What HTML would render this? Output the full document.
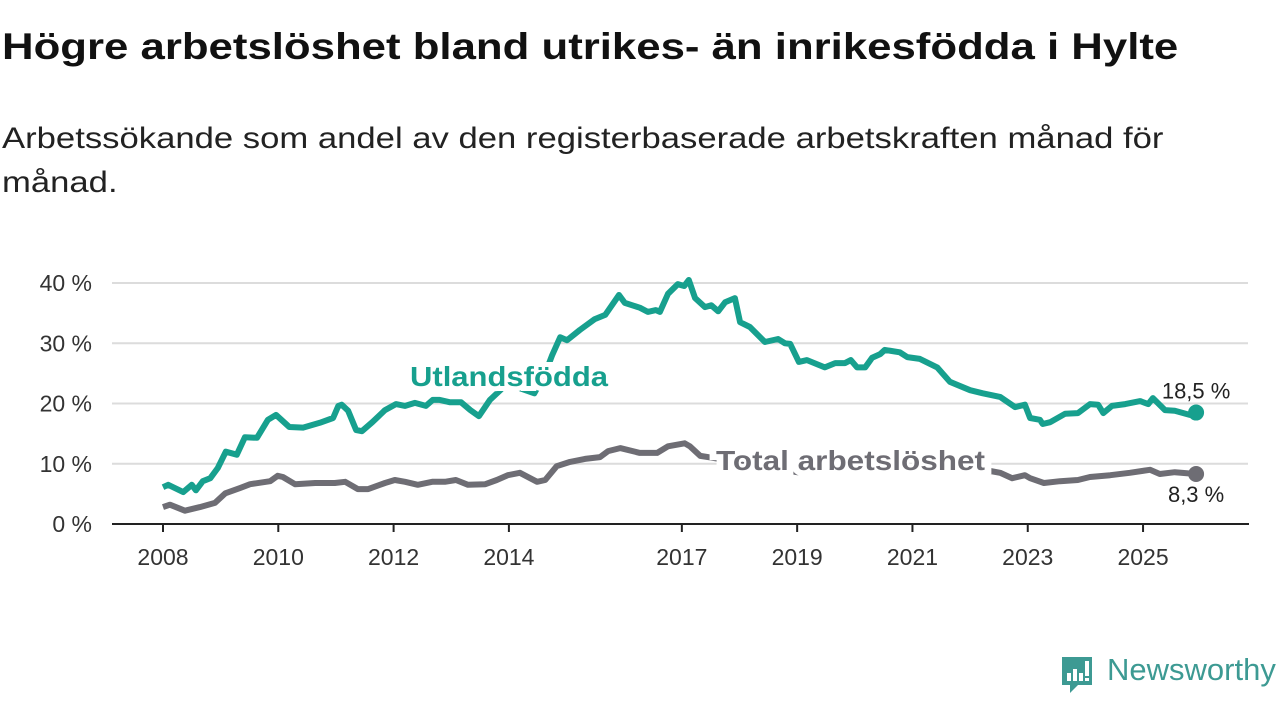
<!DOCTYPE html>
<html><head><meta charset="utf-8">
<style>
html,body{margin:0;padding:0;background:#fff;width:1280px;height:720px;overflow:hidden;font-family:"Liberation Sans",sans-serif;}
#title{position:absolute;left:2px;top:26px;font-size:37px;font-weight:bold;color:#111;white-space:nowrap;transform:scaleX(1.182);transform-origin:0 0;}
#sub{position:absolute;left:2px;top:117px;font-size:30px;color:#222;line-height:44px;width:1200px;white-space:nowrap;transform:scaleX(1.155);transform-origin:0 0;}
svg{position:absolute;left:0;top:0;}
</style></head><body>
<div id="title">Högre arbetslöshet bland utrikes- än inrikesfödda i Hylte</div>
<div id="sub">Arbetssökande som andel av den registerbaserade arbetskraften månad för<br>månad.</div>
<svg id="chart" width="1280" height="720"></svg>
<script>
const yTicks=[0,10,20,30,40];
const xTicks=[2008,2010,2012,2014,2017,2019,2021,2023,2025];
const utlYears=[2008.00,2008.09,2008.35,2008.50,2008.57,2008.69,2008.82,2008.95,2009.09,2009.28,2009.42,2009.63,2009.82,2009.96,2010.19,2010.43,2010.72,2010.95,2011.04,2011.10,2011.21,2011.35,2011.45,2011.63,2011.85,2012.04,2012.20,2012.37,2012.56,2012.68,2012.80,2012.98,2013.17,2013.33,2013.48,2013.67,2013.85,2014.02,2014.20,2014.44,2014.63,2014.75,2014.89,2015.01,2015.23,2015.49,2015.67,2015.91,2016.01,2016.27,2016.41,2016.55,2016.62,2016.76,2016.93,2017.04,2017.12,2017.23,2017.40,2017.51,2017.63,2017.75,2017.92,2018.01,2018.18,2018.44,2018.67,2018.79,2018.88,2019.03,2019.17,2019.48,2019.66,2019.83,2019.93,2020.04,2020.18,2020.30,2020.44,2020.52,2020.78,2020.91,2021.13,2021.43,2021.65,2022.00,2022.22,2022.52,2022.78,2022.95,2023.04,2023.21,2023.26,2023.39,2023.65,2023.87,2024.08,2024.22,2024.31,2024.46,2024.69,2024.95,2025.09,2025.17,2025.38,2025.55,2025.81,2025.92];
const utlValues=[6.1,6.5,5.3,6.5,5.6,7.1,7.6,9.3,12.0,11.5,14.4,14.3,17.3,18.1,16.1,16.0,16.8,17.6,19.6,19.8,18.8,15.6,15.4,16.9,18.9,19.9,19.6,20.1,19.6,20.6,20.6,20.2,20.2,18.9,17.9,20.6,22.2,24.0,22.5,21.7,25.0,28.0,31.0,30.5,32.2,34.0,34.7,38.0,36.7,35.9,35.2,35.5,35.2,38.2,39.8,39.5,40.5,37.5,36.0,36.3,35.3,36.8,37.5,33.5,32.7,30.2,30.7,30.0,29.9,26.9,27.2,26.0,26.7,26.7,27.2,26.0,26.0,27.6,28.2,28.9,28.5,27.7,27.4,26.0,23.6,22.2,21.7,21.1,19.4,19.8,17.6,17.3,16.6,16.9,18.3,18.4,19.9,19.8,18.4,19.6,19.9,20.4,19.9,20.9,18.9,18.8,18.1,18.5];
const totYears=[2008.00,2008.12,2008.38,2008.64,2008.90,2009.08,2009.34,2009.51,2009.86,2009.99,2010.08,2010.29,2010.64,2010.98,2011.16,2011.38,2011.56,2011.85,2012.02,2012.20,2012.42,2012.67,2012.89,2013.08,2013.29,2013.59,2013.79,2013.98,2014.19,2014.49,2014.63,2014.83,2015.06,2015.32,2015.58,2015.72,2015.93,2016.27,2016.57,2016.76,2017.05,2017.14,2017.32,2017.52,2018.0,2019.0,2020.0,2021.0,2022.0,2022.35,2022.52,2022.73,2022.95,2023.04,2023.28,2023.56,2023.87,2024.08,2024.43,2024.77,2025.12,2025.29,2025.55,2025.92];
const totValues=[2.8,3.2,2.2,2.8,3.5,5.1,6.0,6.6,7.1,8.0,7.8,6.6,6.8,6.8,7.0,5.8,5.8,6.8,7.3,7.0,6.5,7.0,7.0,7.3,6.5,6.6,7.3,8.1,8.5,7.0,7.3,9.6,10.3,10.8,11.1,12.1,12.6,11.8,11.8,12.9,13.4,12.9,11.3,11.0,10.2,8.6,9.2,9.0,8.9,8.8,8.5,7.6,8.1,7.6,6.8,7.1,7.3,7.8,8.1,8.5,9.0,8.3,8.6,8.3];
const NS='http://www.w3.org/2000/svg';
const svg=document.getElementById('chart');
const X=y=>163+(y-2008)*57.65;
const Y=v=>524-v*6.025;
function mk(t,a,txt){const e=document.createElementNS(NS,t);for(const k in a)e.setAttribute(k,a[k]);if(txt!==undefined)e.textContent=txt;svg.appendChild(e);return e;}
yTicks.forEach(v=>{
  if(v>0){const g=mk('line',{x1:112,x2:1248,y1:Y(v),y2:Y(v),stroke:'#dcdcdc','stroke-width':2});
  
  }
  const t=mk('text',{x:92,y:Y(v)+8,'text-anchor':'end','font-size':23,fill:'#333','font-family':'Liberation Sans, sans-serif'},v+' %');
  
  
});
const ax=mk('line',{x1:112,x2:1249,y1:524,y2:524,stroke:'#222','stroke-width':2});


xTicks.forEach(yr=>{
  const tk=mk('line',{x1:X(yr),x2:X(yr),y1:524,y2:532,stroke:'#222','stroke-width':2});
  
  
  const t=mk('text',{x:X(yr),y:565,'text-anchor':'middle','font-size':23,fill:'#333','font-family':'Liberation Sans, sans-serif'},yr);
  
  
});
function path(xs,vs){return xs.map((x,i)=>(i?'L':'M')+X(x).toFixed(1)+','+Y(vs[i]).toFixed(1)).join('');}
const tl=mk('path',{d:path(totYears,totValues),fill:'none',stroke:'#6e6d74','stroke-width':6,'stroke-linejoin':'round'});


const ul=mk('path',{d:path(utlYears,utlValues),fill:'none',stroke:'#17a08e','stroke-width':6,'stroke-linejoin':'round'});


const lu=mk('text',{x:410,y:386,'font-size':28,'font-weight':'bold',fill:'#17a08e',stroke:'#fff','stroke-width':10,'paint-order':'stroke',textLength:198,lengthAdjust:'spacingAndGlyphs','font-family':'Liberation Sans, sans-serif'},'Utlandsfödda');


const lt=mk('text',{x:716,y:470,'font-size':28,'font-weight':'bold',fill:'#6e6d74',stroke:'#fff','stroke-width':12,'paint-order':'stroke',textLength:269,lengthAdjust:'spacingAndGlyphs','font-family':'Liberation Sans, sans-serif'},'Total arbetslöshet');


const ue=utlYears.length-1, te=totYears.length-1;
const ud=mk('circle',{cx:X(utlYears[ue]),cy:Y(utlValues[ue]),r:8,fill:'#17a08e'});


const td=mk('circle',{cx:X(totYears[te]),cy:Y(totValues[te]),r:8,fill:'#6e6d74'});


const uv=mk('text',{x:X(utlYears[ue]),y:Y(utlValues[ue])-14,'text-anchor':'middle','font-size':22,fill:'#222','font-family':'Liberation Sans, sans-serif'},utlValues[ue].toString().replace('.',',')+' %');


const tv=mk('text',{x:X(totYears[te]),y:Y(totValues[te])+28,'text-anchor':'middle','font-size':22,fill:'#222','font-family':'Liberation Sans, sans-serif'},totValues[te].toString().replace('.',',')+' %');


</script>
<div style="position:absolute;left:1060px;top:655px;width:220px;height:45px;">
<svg width="36" height="42" style="position:absolute;left:0;top:0">
<path d="M2,2 H32 V30 H18 L10,38 L10,30 H2 Z" fill="#3d9a93"/>
<rect x="7" y="18" width="4" height="8" fill="#fff"/><rect x="13" y="14" width="4" height="12" fill="#fff"/><rect x="19" y="18" width="4" height="8" fill="#fff"/><rect x="25" y="6" width="4" height="15" fill="#fff"/><rect x="25" y="23" width="4" height="3" fill="#fff"/>
</svg>
<div style="position:absolute;left:47px;top:-3px;font-size:31px;color:#3d9a93;font-family:'Liberation Sans',sans-serif;">Newsworthy</div>
</div>
</body></html>
